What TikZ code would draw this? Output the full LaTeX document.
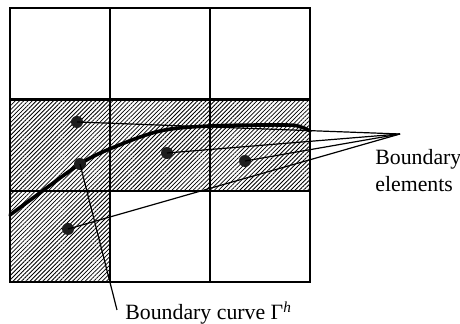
\documentclass[tikz,border=0pt]{standalone}
\usepackage{fontspec}
\setmainfont{Liberation Serif}
\usepackage{tikz}
\usetikzlibrary{positioning, patterns.meta}
\usepackage{xcolor}
\definecolor{dotgray}{HTML}{1E1E1E}

\begin{document}
\begin{tikzpicture}[x=0.5pt, y=-0.5pt,
    font=\fontsize{10.9}{13.5}\selectfont,
    cell/.style={draw=black, line width=0.75pt},
    hatched/.style={pattern={Lines[angle=45, distance=1.5pt, line width=0.4pt]}},
    bcurve/.style={line width=1.8pt, line cap=round},
    bdot/.style={circle, fill=dotgray, inner sep=0pt, minimum size=6pt},
    leader/.style={line width=0.6pt}]
        \useasboundingbox (0,0) rectangle (460,324);
        % hatched boundary cells
        \fill[hatched] (10,100) rectangle (310,191);
        \fill[hatched] (10,191) rectangle (110,282);
        % grid
        \foreach \c in {10,110,210} {
          \foreach \r in {8,100,191} {
            \draw[cell] (\c,\r) rectangle ++(100,91);
          }
        }
        \draw[line width=1pt] (10,100) rectangle (310,191);
        \draw[line width=1pt] (10,191) rectangle (110,282);
        % boundary curve
        \draw[bcurve] plot[smooth, tension=0.55] coordinates
          {(10,215) (33,198) (80,164) (112,148) (160,131) (210,126) (285,125) (301,127) (310,131)};
        % element centres
        \node[bdot] (e1) at (77,122) {};
        \node[bdot] (e2) at (80,164) {};
        \node[bdot] (e3) at (167,153) {};
        \node[bdot] (e4) at (245,161) {};
        \node[bdot] (e5) at (68,229) {};
        \coordinate (meet) at (400,134);
        \coordinate (cfoot) at (117,310);
        \foreach \e in {e1,e3,e4,e5}
          \draw[leader] (\e.center) -- (meet);
        \draw[leader] (e2.center) -- (cfoot);
        \node[anchor=base west, inner sep=0pt] (elabel) at (375,165) {Boundary};
        \node[anchor=base west, inner sep=0pt] (elabel2) at (375,192) {elements};
        \node[anchor=base west, inner sep=0pt] (clabel) at (125,320)
          {Boundary curve Γ\textsuperscript{\itshape h}};
      \end{tikzpicture}
\end{document}
